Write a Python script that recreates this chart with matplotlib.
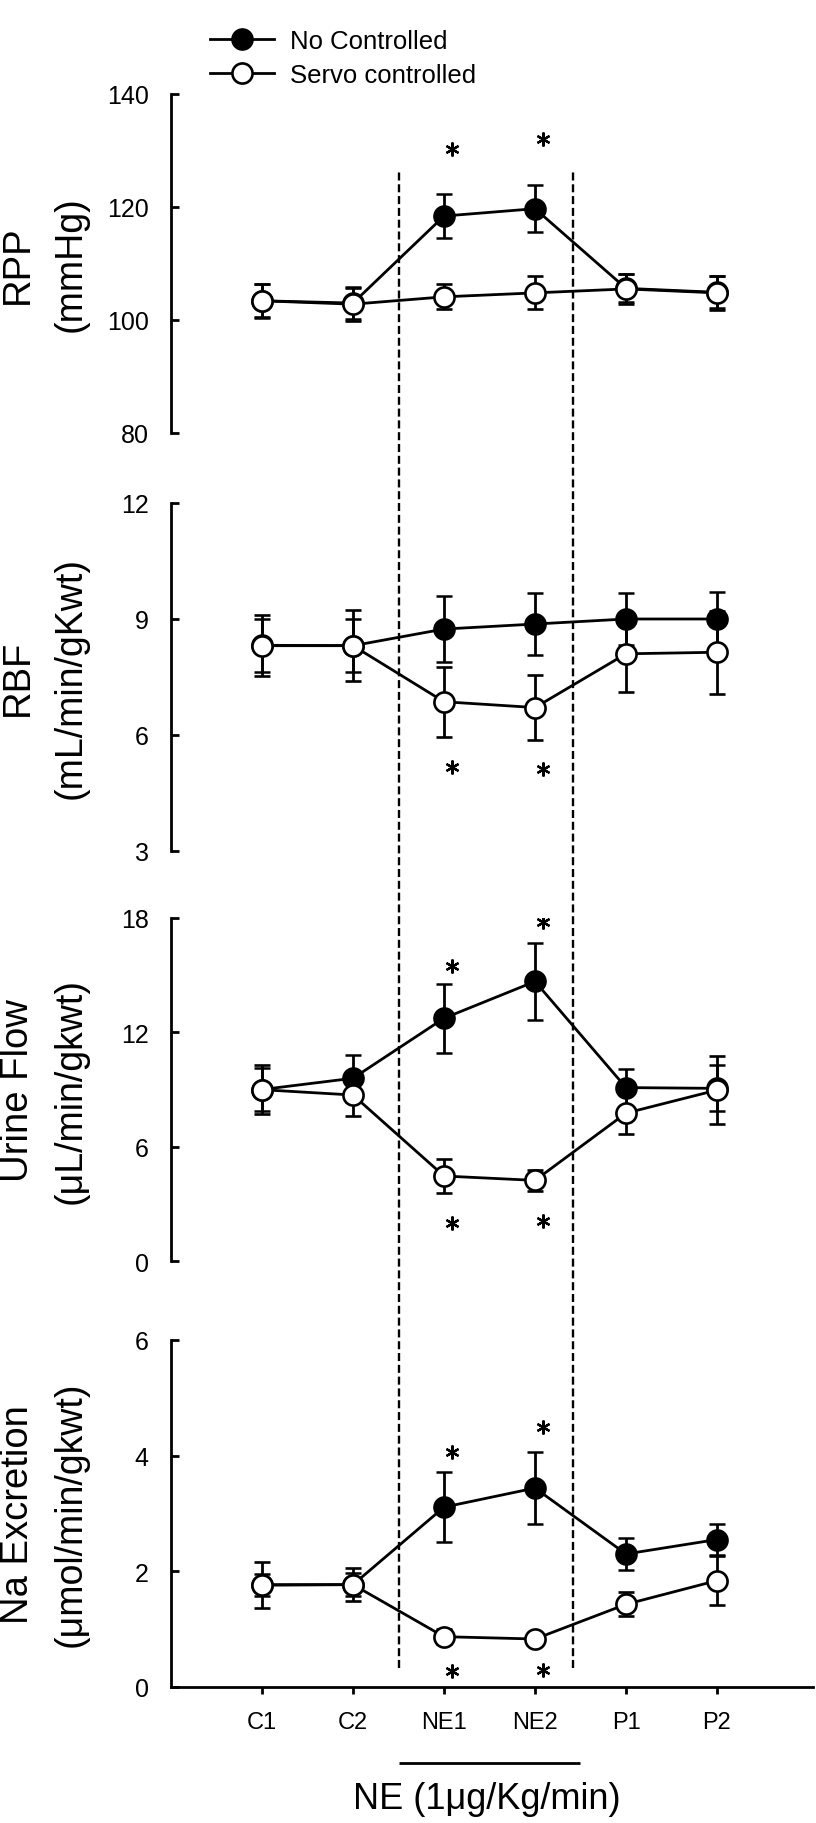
import matplotlib
matplotlib.use("Agg")
import matplotlib.pyplot as plt
import matplotlib.transforms as mtransforms

plt.rcParams['font.family'] = ['Liberation Sans', 'DejaVu Sans']

# sampling periods (control, norepinephrine infusion, post)
periods = ['C1', 'C2', 'NE1', 'NE2', 'P1', 'P2']

# renal perfusion pressure (mmHg)
rpp_no = [103.4, 103.0, 118.4, 119.7, 105.6, 104.9]
rpp_no_se = [3.0, 2.8, 3.9, 4.2, 2.5, 2.8]
rpp_servo = [103.4, 102.8, 104.1, 104.8, 105.5, 104.8]
rpp_servo_se = [2.9, 2.9, 2.2, 2.9, 2.6, 3.0]
rpp_stars = [(2, 130.3), (3, 132.0)]

# renal blood flow (mL/min/gKwt)
rbf_no = [8.32, 8.31, 8.74, 8.87, 9.0, 9.0]
rbf_no_se = [0.68, 0.69, 0.85, 0.8, 0.66, 0.71]
rbf_servo = [8.31, 8.31, 6.86, 6.71, 8.1, 8.14]
rbf_servo_se = [0.79, 0.92, 0.9, 0.85, 1.0, 1.07]
rbf_stars = [(2, 5.17), (3, 5.12)]

# urine flow (uL/min/gkwt)
uf_no = [9.0, 9.59, 12.74, 14.67, 9.1, 9.06]
uf_no_se = [1.13, 1.24, 1.8, 2.0, 1.0, 1.2]
uf_servo = [8.99, 8.71, 4.46, 4.23, 7.76, 8.97]
uf_servo_se = [1.28, 1.08, 0.88, 0.55, 1.1, 1.8]
uf_stars = [(2, 15.5), (3, 17.8), (2, 2.0), (3, 2.1)]

# sodium excretion (umol/min/gkwt)
na_no = [1.77, 1.77, 3.11, 3.44, 2.3, 2.55]
na_no_se = [0.19, 0.2, 0.6, 0.62, 0.28, 0.26]
na_servo = [1.76, 1.77, 0.87, 0.83, 1.43, 1.84]
na_servo_se = [0.4, 0.29, 0.13, 0.08, 0.21, 0.43]
na_stars = [(2, 4.07), (3, 4.5), (2, 0.28), (3, 0.3)]

panels = [
    (rpp_no, rpp_no_se, rpp_servo, rpp_servo_se, rpp_stars,
     (80, 140), [80, 100, 120, 140], 'RPP', '(mmHg)'),
    (rbf_no, rbf_no_se, rbf_servo, rbf_servo_se, rbf_stars,
     (3, 12), [3, 6, 9, 12], 'RBF', '(mL/min/gKwt)'),
    (uf_no, uf_no_se, uf_servo, uf_servo_se, uf_stars,
     (0, 18), [0, 6, 12, 18], 'Urine Flow', '(\u03bcL/min/gkwt)'),
    (na_no, na_no_se, na_servo, na_servo_se, na_stars,
     (0, 6), [0, 2, 4, 6], 'Na Excretion', '(\u03bcmol/min/gkwt)'),
]

W, H = 816, 1824
fig = plt.figure(figsize=(W / 100, H / 100), dpi=100)

# layout in pixels: (top, bottom) of each panel's y axis
panel_px = [(95, 434), (504, 852), (919, 1262), (1341, 1688)]
x_left_px = 171
px_per_unit = 91
xmax = 7.05
left = x_left_px / W
width = xmax * px_per_unit / W

x = list(range(1, len(periods) + 1))
lw = 2

for i, (no, no_se, servo, servo_se, stars, ylim, yticks, lab1, lab2) in enumerate(panels):
    top, bot = panel_px[i]
    ax = fig.add_axes([left, 1 - bot / H, width, (bot - top) / H])
    ax.patch.set_visible(False)

    h_no = ax.errorbar(x, no, yerr=no_se, fmt='-o', color='black', mfc='black', mec='black',
                       ms=14.5, mew=1.8, lw=lw, elinewidth=lw, capsize=6, capthick=lw, zorder=2)
    h_servo = ax.errorbar(x, servo, yerr=servo_se, fmt='-o', color='black', mfc='white', mec='black',
                          ms=14.5, mew=1.9, lw=lw, elinewidth=lw, capsize=6, capthick=lw, zorder=3)

    sx = [x[k] + 0.09 for k, _ in stars]
    sy = [v for _, v in stars]
    ax.plot(sx, sy, linestyle='none', marker=(6, 2, 0), ms=10, mew=1.6, color='black')

    ax.set_xlim(0, xmax)
    ax.set_ylim(*ylim)
    ax.set_yticks(yticks)
    for s in ['top', 'right']:
        ax.spines[s].set_visible(False)
    ax.spines['left'].set_linewidth(lw)
    ax.spines['bottom'].set_linewidth(lw)
    ax.tick_params(axis='y', direction='in', length=5.5, width=lw, labelsize=18, pad=16)

    if i < len(panels) - 1:
        ax.spines['bottom'].set_visible(False)
        ax.tick_params(axis='x', bottom=False, labelbottom=False)
    else:
        ax.set_xticks(x)
        ax.set_xticklabels(periods)
        ax.tick_params(axis='x', direction='out', length=5, width=lw, labelsize=17, pad=12)

    trans = mtransforms.blended_transform_factory(fig.transFigure, ax.transAxes)
    ax.text(28 / W, 0.5, lab1, transform=trans, rotation=90, rotation_mode='anchor',
            ha='center', va='baseline', fontsize=27.5)
    ax.text(81 / W, 0.5, lab2, transform=trans, rotation=90, rotation_mode='anchor',
            ha='center', va='baseline', fontsize=27)

# overlay for the NE infusion window spanning all panels
ov = fig.add_axes([left, 0, width, 1])
ov.set_xlim(0, xmax)
ov.set_ylim(0, 1)
ov.axis('off')
ov.vlines([2.5, 4.42], 1 - 1669 / H, 1 - 172 / H, colors='black', linewidth=1.7,
          linestyles=(0, (3.4, 1.6)))
ov.hlines(1 - 1764 / H, 2.5, 4.49, colors='black', linewidth=lw)
ov.text(3.47, 1 - 1800 / H, 'NE (1\u03bcg/Kg/min)', ha='center', va='center', fontsize=26)

fig.legend([h_no.lines[0], h_servo.lines[0]], ['No Controlled', 'Servo controlled'],
           loc='upper left', bbox_to_anchor=(210 / W, 1 - 30 / H), frameon=False,
           fontsize=18.5, handlelength=2.5, handletextpad=0.6, labelspacing=0.4,
           borderpad=0, borderaxespad=0)

fig.savefig('out.png', dpi=100)
